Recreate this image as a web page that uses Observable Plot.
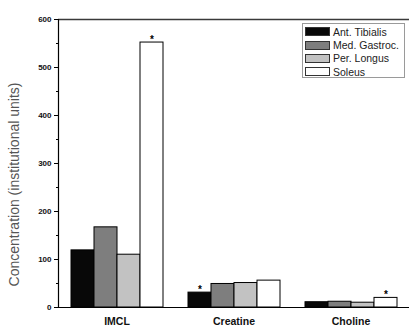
<!DOCTYPE html>
<html>
<head>
<meta charset="utf-8">
<script src="https://cdn.jsdelivr.net/npm/d3@7"></script>
<script src="https://cdn.jsdelivr.net/npm/@observablehq/plot@0.6"></script>
<style>
  body { margin: 0; background: #fff; font-family: "Liberation Sans", Arial, sans-serif; }
  #wrap { position: relative; width: 410px; height: 326px; }
  #legend { position: absolute; left: 302px; top: 23px; width: 103px; height: 55px; border: 1px solid #9a9a9a; box-sizing: border-box; background: #fff; padding-top: 1px; }
  .row { display: flex; align-items: center; height: 13.4px; }
  .sw { width: 25px; height: 9px; border: 1px solid #333; box-sizing: border-box; margin-left: 2px; margin-right: 3px; }
  .lb { font-size: 10.5px; color: #222; white-space: nowrap; }
</style>
</head>
<body>
<div id="wrap"></div>
<script>
const groups = ["IMCL", "Creatine", "Choline"];
const series = ["Ant. Tibialis", "Med. Gastroc.", "Per. Longus", "Soleus"];
const antTibialis = [119, 31, 11];
const medGastroc = [167, 49, 12];
const perLongus = [110, 51, 10];
const soleus = [552, 56, 20];
const seriesColors = ["#080808", "#7e7e7e", "#c2c2c2", "#ffffff"];
const yTicks = [0, 100, 200, 300, 400, 500, 600];
const yMinorTicks = [50, 150, 250, 350, 450, 550];
const starred = [["IMCL", "Soleus"], ["Creatine", "Ant. Tibialis"], ["Choline", "Soleus"]];
const yTitle = "Concentration (institutional units)";

const valueArrays = [antTibialis, medGastroc, perLongus, soleus];
const data = [];
groups.forEach((g, gi) => series.forEach((s, si) => data.push({group: g, series: s, value: valueArrays[si][gi]})));
const stars = starred.map(([g, s]) => data.find(d => d.group === g && d.series === s));

const chart = Plot.plot({
  width: 410,
  height: 326,
  marginTop: 19,
  marginBottom: 19,
  marginLeft: 57,
  marginRight: 0,
  style: {fontFamily: "'Liberation Sans', Arial, sans-serif", background: "#fff"},
  fx: {domain: groups, padding: 0, axis: null},
  x: {domain: series, paddingInner: 0, paddingOuter: 0.5, axis: null},
  y: {domain: [0, 600], axis: null},
  color: {domain: series, range: seriesColors},
  marks: [
    Plot.ruleY([600], {stroke: "#3a3a3a", strokeWidth: 1.6}),
    Plot.barY(data, {fx: "group", x: "series", y: "value", fill: "series", stroke: "#000", strokeWidth: 1}),
    Plot.ruleY([0], {stroke: "#000", strokeWidth: 1.2}),
    Plot.frame({anchor: "left", facetAnchor: "left", stroke: "#000", strokeWidth: 1.2}),
    Plot.text(stars, {fx: "group", x: "series", y: "value", text: () => "*", dy: -3, fontSize: 10, fontWeight: "bold", fill: "#000"}),
    Plot.axisY({ticks: yTicks, tickSize: 4, tickPadding: 3, fontSize: 8, fontWeight: "bold", label: null, stroke: "#000", fill: "#111"}),
    Plot.axisY({ticks: yMinorTicks, tickSize: 2, text: null, label: null, stroke: "#000"}),
    Plot.axisFx({anchor: "bottom", tickSize: 0, tickPadding: 10, fontSize: 10.5, fontWeight: "bold", label: null, fill: "#111"}),
    Plot.text([{fx: "IMCL"}], {fx: "fx", text: () => yTitle, frameAnchor: "left", textAnchor: "middle", rotate: -90, dx: -44, dy: 21, fontSize: 14, fill: "#555"})
  ]
});

const wrap = document.getElementById("wrap");
wrap.appendChild(chart);

const legend = document.createElement("div");
legend.id = "legend";
series.forEach((s, i) => {
  const row = document.createElement("div");
  row.className = "row";
  const sw = document.createElement("div");
  sw.className = "sw";
  sw.style.background = seriesColors[i];
  const lb = document.createElement("span");
  lb.className = "lb";
  lb.textContent = s;
  row.appendChild(sw);
  row.appendChild(lb);
  legend.appendChild(row);
});
wrap.appendChild(legend);
</script>
</body>
</html>
